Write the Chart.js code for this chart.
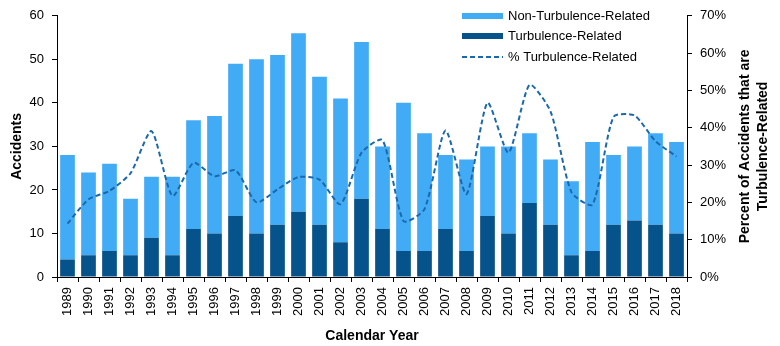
<!DOCTYPE html>
<html>
<head>
<meta charset="utf-8">
<script src="https://cdn.jsdelivr.net/npm/chart.js@4"></script>
<style>
  html, body { margin: 0; padding: 0; background: #fff; }
  #wrap { position: relative; width: 780px; height: 346px; }
</style>
</head>
<body>
<div id="wrap"><canvas id="c" width="780" height="346"></canvas></div>
<script>
const years = ['1989','1990','1991','1992','1993','1994','1995','1996','1997','1998','1999','2000','2001','2002','2003','2004','2005','2006','2007','2008','2009','2010','2011','2012','2013','2014','2015','2016','2017','2018'];
const turbulence = [4,5,6,5,9,5,11,10,14,10,12,15,12,8,18,11,6,6,11,6,14,10,17,12,5,6,12,13,12,10];
const nonTurbulence = [24,19,20,13,14,18,25,27,35,40,39,41,34,33,36,19,34,27,17,21,16,20,16,15,17,25,16,17,21,21];
const pctTurbulence = [14.3,20.8,23.1,27.8,39.1,21.7,30.6,27.0,28.6,20.0,23.5,26.8,26.1,19.5,33.3,36.7,15.0,18.2,39.3,22.2,46.7,33.3,51.5,44.4,22.7,19.4,42.9,43.3,36.4,32.3];
const leftTicks = [0,10,20,30,40,50,60];
const rightTicks = [0,10,20,30,40,50,60,70];

const LIGHT = '#42ABF6';
const DARK = '#06528A';
const LINE = '#1B69AC';
const FONT = '"Liberation Sans", Arial, sans-serif';

const extras = {
  id: 'extras',
  afterDraw(chart) {
    const ctx = chart.ctx;
    ctx.save();
    ctx.fillStyle = '#000';
    ctx.font = 'bold 14px ' + FONT;
    ctx.textAlign = 'center';
    ctx.textBaseline = 'middle';
    const cy = (chart.chartArea.top + chart.chartArea.bottom) / 2;
    ctx.save();
    ctx.translate(745, cy);
    ctx.rotate(-Math.PI / 2);
    ctx.fillText('Percent of Accidents that are', 0, 0);
    ctx.restore();
    ctx.save();
    ctx.translate(763, cy);
    ctx.rotate(-Math.PI / 2);
    ctx.fillText('Turbulence-Related', 0, 0);
    ctx.restore();

    const lx = 462, sw = 41, tx = 508;
    const rows = [16, 36, 57];
    ctx.font = '13px ' + FONT;
    ctx.textAlign = 'left';
    ctx.fillStyle = LIGHT;
    ctx.fillRect(lx, rows[0] - 3, sw, 6);
    ctx.fillStyle = DARK;
    ctx.fillRect(lx, rows[1] - 3, sw, 6);
    ctx.strokeStyle = LINE;
    ctx.lineWidth = 2;
    ctx.setLineDash([5, 3]);
    ctx.beginPath();
    ctx.moveTo(lx, rows[2]);
    ctx.lineTo(lx + sw, rows[2]);
    ctx.stroke();
    ctx.setLineDash([]);
    ctx.fillStyle = '#000';
    ctx.fillText('Non-Turbulence-Related', tx, rows[0]);
    ctx.fillText('Turbulence-Related', tx, rows[1]);
    ctx.fillText('% Turbulence-Related', tx, rows[2]);
    ctx.restore();
  }
};

new Chart(document.getElementById('c'), {
  type: 'bar',
  data: {
    labels: years,
    datasets: [
      {
        type: 'line',
        label: '% Turbulence-Related',
        data: pctTurbulence,
        yAxisID: 'y2',
        borderColor: LINE,
        borderWidth: 2,
        borderDash: [5, 3],
        pointRadius: 0,
        tension: 0.22,
        fill: false,
        order: 0
      },
      {
        label: 'Turbulence-Related',
        data: turbulence,
        backgroundColor: DARK,
        stack: 's',
        yAxisID: 'y',
        categoryPercentage: 0.7,
        barPercentage: 1.0,
        order: 1
      },
      {
        label: 'Non-Turbulence-Related',
        data: nonTurbulence,
        backgroundColor: LIGHT,
        stack: 's',
        yAxisID: 'y',
        categoryPercentage: 0.7,
        barPercentage: 1.0,
        order: 2
      }
    ]
  },
  options: {
    responsive: false,
    animation: false,
    layout: { padding: { top: 11, left: 0, right: 0, bottom: 0 } },
    plugins: { legend: { display: false }, tooltip: { enabled: false } },
    scales: {
      x: {
        stacked: true,
        grid: { display: true, drawOnChartArea: false, drawTicks: true, tickLength: 5, color: '#000', offset: true },
        border: { display: true, color: '#000', width: 1 },
        ticks: { color: '#000', font: { family: FONT, size: 13 }, minRotation: 90, maxRotation: 90, padding: 5, autoSkip: false },
        title: { display: true, text: 'Calendar Year', color: '#000', font: { family: FONT, size: 14, weight: 'bold' }, padding: { top: 0, bottom: 1 } },
        afterFit(s) { s.height = 69; }
      },
      y: {
        stacked: true,
        position: 'left',
        min: 0, max: 60,
        afterBuildTicks(s) { s.ticks = leftTicks.map(v => ({ value: v })); },
        grid: { display: true, drawOnChartArea: false, drawTicks: true, tickLength: 5, color: '#000' },
        border: { display: true, color: '#000', width: 1 },
        ticks: { color: '#000', font: { family: FONT, size: 13 }, padding: 8 },
        title: { display: true, text: 'Accidents', color: '#000', font: { family: FONT, size: 14, weight: 'bold' }, padding: { top: 9, bottom: 0 } },
        afterFit(s) { s.width = 57; }
      },
      y2: {
        position: 'right',
        min: 0, max: 70,
        afterBuildTicks(s) { s.ticks = rightTicks.map(v => ({ value: v })); },
        grid: { display: true, drawOnChartArea: false, drawTicks: true, tickLength: 5, color: '#000' },
        border: { display: true, color: '#000', width: 1 },
        ticks: { color: '#000', font: { family: FONT, size: 13 }, padding: 8, callback: v => v + '%' },
        afterFit(s) { s.width = 93; }
      }
    }
  },
  plugins: [extras]
});
</script>
</body>
</html>
